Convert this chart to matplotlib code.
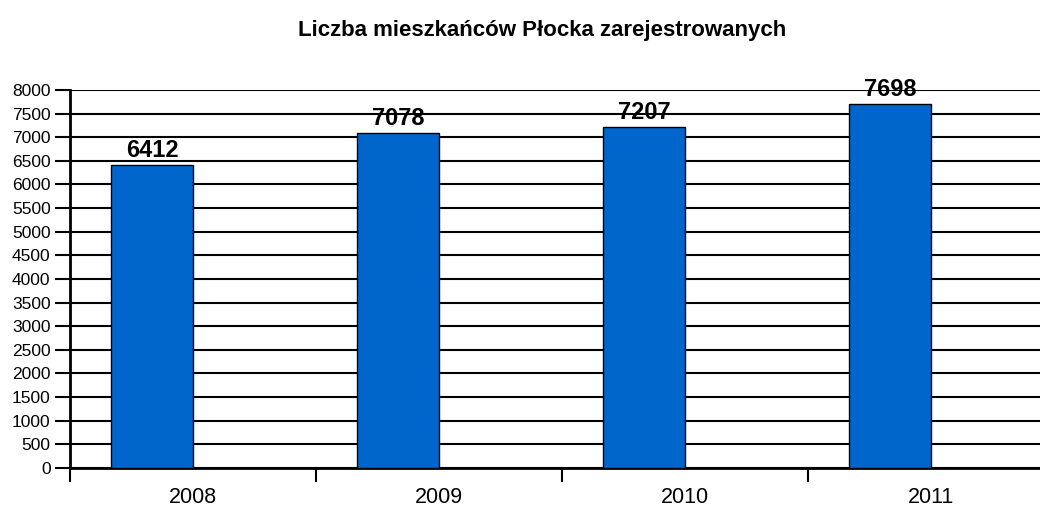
import matplotlib
matplotlib.use('Agg')
import matplotlib.pyplot as plt
from matplotlib.ticker import MultipleLocator, FixedLocator

plt.rcParams['font.family'] = ['Liberation Sans', 'DejaVu Sans']

years = ['2008', '2009', '2010', '2011']
residents = [6412, 7078, 7207, 7698]

fig = plt.figure(figsize=(10.4, 5.11), dpi=100)
# plot area runs a bit past the right edge, like the original screenshot
ax = fig.add_axes([0.0673, 0.0841, 0.946, 0.740])

x = list(range(len(years)))
bw = 1/3
bars = ax.bar([i - bw/2 for i in x], residents, width=bw, color='#0066CC',
              edgecolor='black', linewidth=1.0, zorder=3)

for b, v in zip(bars, residents):
    ax.text(b.get_x() + b.get_width()/2, v + 70, str(v), ha='center', va='bottom',
            fontsize=17, fontweight='bold', zorder=4)

ax.set_xlim(-0.5, len(years) - 0.5)
ax.set_ylim(0, 8000)
ax.yaxis.set_major_locator(MultipleLocator(500))
ax.grid(axis='y', color='black', linewidth=1.5, zorder=1)
ax.set_axisbelow(True)

ax.set_xticks(x)
ax.set_xticklabels(years, fontsize=15.5)
ax.tick_params(axis='x', which='major', length=0, pad=14)
ax.xaxis.set_minor_locator(FixedLocator([i + 0.5 for i in range(-1, len(years))]))
ax.tick_params(axis='x', which='minor', length=10, width=1.5, color='black')
ax.tick_params(axis='y', labelsize=12.5, length=11, width=1.5, pad=3)

for s in ['top', 'right']:
    ax.spines[s].set_visible(False)
ax.spines['left'].set_linewidth(2)
ax.spines['bottom'].set_linewidth(2)

fig.text(0.521, 0.94, 'Liczba mieszkańców Płocka zarejestrowanych', ha='center', va='center',
         fontsize=16, fontweight='bold')

fig.savefig('out.png', dpi=100)
